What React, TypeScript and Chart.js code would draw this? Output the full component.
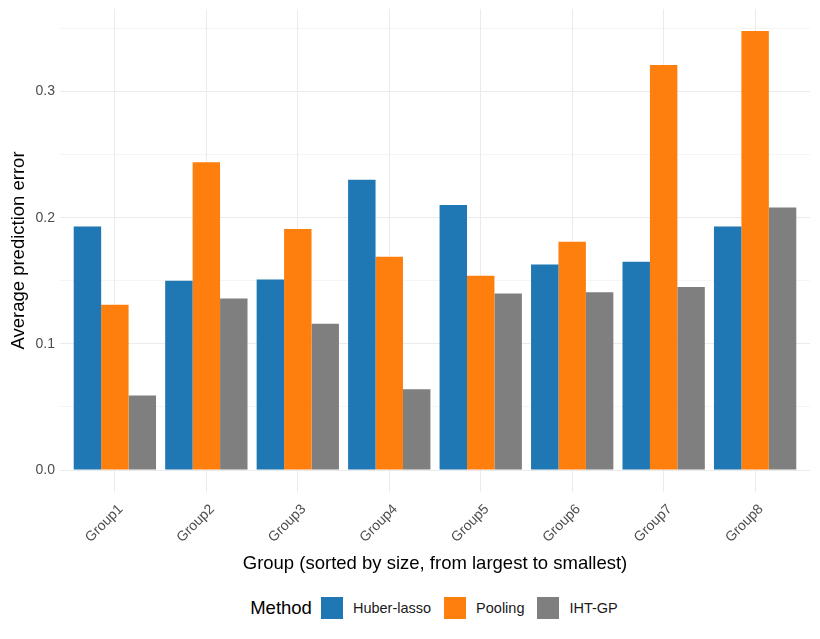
import React, { useEffect, useRef } from "react";
import { Chart, registerables } from "chart.js";

Chart.register(...registerables);

const categories = ["Group1", "Group2", "Group3", "Group4", "Group5", "Group6", "Group7", "Group8"];
const huberLasso = [0.193, 0.150, 0.151, 0.230, 0.210, 0.163, 0.165, 0.193];
const pooling = [0.131, 0.244, 0.191, 0.169, 0.154, 0.181, 0.321, 0.348];
const ihtGp = [0.059, 0.136, 0.116, 0.064, 0.140, 0.141, 0.145, 0.208];
const seriesNames = ["Huber-lasso", "Pooling", "IHT-GP"];
const seriesColors = ["#1F77B4", "#FF7F0E", "#7F7F7F"];
const yTickValues = [0, 0.05, 0.1, 0.15, 0.2, 0.25, 0.3, 0.35];
const yMin = -0.0174;
const yMax = 0.3654;
const xExpand = 0.6;

const FONT = "'Liberation Sans', Arial, sans-serif";

const isMajor = (v: number) => Math.abs(Math.round(v * 10) - v * 10) < 1e-6;

export default function App() {
  const canvasRef = useRef<HTMLCanvasElement | null>(null);

  useEffect(() => {
    if (!canvasRef.current) return;
    const values = [huberLasso, pooling, ihtGp];
    const chart = new Chart(canvasRef.current, {
      type: "bar",
      data: {
        labels: categories,
        datasets: seriesNames.map((name, i) => ({
          label: name,
          data: values[i],
          backgroundColor: seriesColors[i],
          borderWidth: 0,
          categoryPercentage: 0.9,
          barPercentage: 1.0,
        })),
      },
      options: {
        animation: false,
        responsive: true,
        maintainAspectRatio: false,
        layout: { padding: { top: 1, right: 2, left: 0, bottom: 0 } },
        plugins: {
          legend: { display: false },
          tooltip: { enabled: false },
        },
        scales: {
          x: {
            grid: { offset: false, color: "#EBEBEB", lineWidth: 1, drawTicks: false },
            border: { display: false },
            ticks: {
              autoSkip: false,
              minRotation: 45,
              maxRotation: 45,
              padding: 9,
              labelOffset: 6,
              color: "#4D4D4D",
              font: { family: FONT, size: 14 },
            },
            title: {
              display: true,
              text: "Group (sorted by size, from largest to smallest)",
              color: "#000000",
              font: { family: FONT, size: 18.5 },
              padding: { top: 0, bottom: 13 },
            },
            afterBuildTicks: (scale: any) => {
              scale._startValue = -xExpand;
              scale._valueRange = categories.length - 1 + 2 * xExpand;
            },
            afterFit: (scale: any) => {
              scale.height = 96;
              scale.paddingLeft = 0;
              scale.paddingRight = 0;
              scale.paddingTop = 0;
              scale.paddingBottom = 0;
            },
          },
          y: {
            min: yMin,
            max: yMax,
            grid: {
              color: "#EBEBEB",
              drawTicks: false,
              lineWidth: (ctx: any) => (ctx.tick && isMajor(ctx.tick.value) ? 1 : 0.5),
            },
            border: { display: false },
            afterBuildTicks: (scale: any) => {
              scale.ticks = yTickValues.map((v) => ({ value: v }));
            },
            ticks: {
              padding: 5,
              color: "#4D4D4D",
              font: { family: FONT, size: 14 },
              callback: (v: any) => (isMajor(Number(v)) ? Number(v).toFixed(1) : ""),
            },
            title: {
              display: true,
              text: "Average prediction error",
              color: "#000000",
              font: { family: FONT, size: 18.5 },
              padding: { top: 0, bottom: 0 },
            },
            afterFit: (scale: any) => {
              scale.width = 52;
              scale.paddingLeft = 0;
              scale.paddingRight = 0;
              scale.paddingTop = 0;
              scale.paddingBottom = 0;
            },
          },
        },
      },
    });
    return () => chart.destroy();
  }, []);

  return (
    <div style={{ width: 804, fontFamily: FONT }}>
      <div style={{ position: "relative", width: 804, height: 580 }}>
        <canvas ref={canvasRef} />
      </div>
      <div
        style={{
          height: 40,
          marginLeft: 51,
          width: 750,
          display: "flex",
          alignItems: "center",
          justifyContent: "center",
        }}
      >
        <span style={{ fontSize: 18.5, color: "#000", marginRight: 9 }}>Method</span>
        {seriesNames.map((name, i) => (
          <span key={name} style={{ display: "flex", alignItems: "center", marginRight: i < seriesNames.length - 1 ? 13 : 0 }}>
            <span style={{ display: "inline-block", width: 22, height: 22, background: seriesColors[i], marginRight: 10 }} />
            <span style={{ fontSize: 14.5, color: "#1A1A1A" }}>{name}</span>
          </span>
        ))}
      </div>
    </div>
  );
}
